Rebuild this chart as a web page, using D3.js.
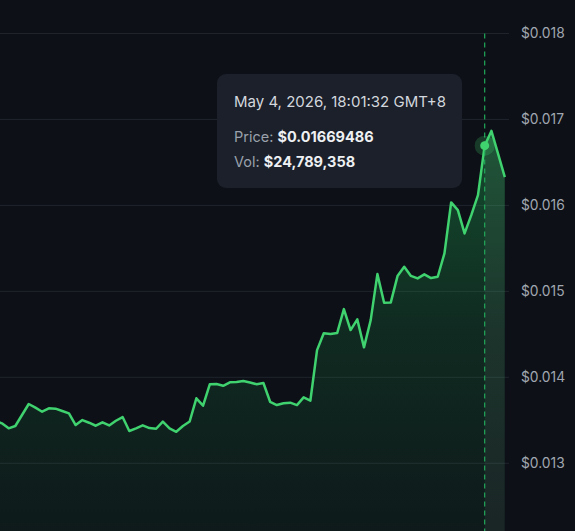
<!DOCTYPE html>
<html>
<head>
<meta charset="utf-8">
<script src="https://cdn.jsdelivr.net/npm/d3@7"></script>
<style>
  html, body { margin: 0; padding: 0; background: #0d1117; overflow: hidden; }
  svg { display: block; font-family: Inter, "Noto Sans", sans-serif; }
</style>
</head>
<body>
<script>
// price points (first one sits just off the left edge)
var prices = [
    0.013492, 0.013465, 0.013407, 0.013434, 0.013562, 0.013690, 0.013647, 0.013600,
    0.013640, 0.013636, 0.013608, 0.013581, 0.013445, 0.013503, 0.013472, 0.013437,
    0.013477, 0.013440, 0.013495, 0.013538, 0.013376, 0.013407, 0.013442, 0.013410,
    0.013402, 0.013484, 0.013405, 0.013367, 0.013434, 0.013486, 0.013756, 0.013670,
    0.013919, 0.013922, 0.013902, 0.013942, 0.013945, 0.013957, 0.013940, 0.013919,
    0.013934, 0.013716, 0.013678, 0.013698, 0.013705, 0.013677, 0.013767, 0.013728,
    0.014317, 0.014512, 0.014503, 0.014515, 0.014794, 0.014550, 0.014674, 0.014349,
    0.014666, 0.015201, 0.014867, 0.014872, 0.015178, 0.015286, 0.015180, 0.015151,
    0.015198, 0.015155, 0.015170, 0.015442, 0.016035, 0.015945, 0.015674, 0.015887,
    0.016120, 0.01669486, 0.016867, 0.016600, 0.016329
]
var yTicks = [0.013, 0.014, 0.015, 0.016, 0.017, 0.018]
var hoverIndex = 73
var hoverDate = "May 4, 2026, 18:01:32 GMT+8"
var hoverPrice = "$0.01669486"
var hoverVol = "$24,789,358"

var width = 575, height = 531

var svg = d3.select("body").append("svg")
    .attr("width", width)
    .attr("height", height)

var x = d3.scaleLinear()
    .domain([0, prices.length - 1])
    .range([-4.8, 504.8])

var y = d3.scaleLinear()
    .domain([0.013, 0.018])
    .range([463.3, 33.5])

var defs = svg.append("defs")
var grad = defs.append("linearGradient")
    .attr("id", "fillGrad")
    .attr("gradientUnits", "userSpaceOnUse")
    .attr("x1", 0).attr("y1", y(0.0169)).attr("x2", 0).attr("y2", height)
grad.append("stop").attr("offset", 0).attr("stop-color", "#22c55e").attr("stop-opacity", 0.34)
grad.append("stop").attr("offset", 0.5).attr("stop-color", "#22c55e").attr("stop-opacity", 0.14)
grad.append("stop").attr("offset", 1).attr("stop-color", "#22c55e").attr("stop-opacity", 0.05)

defs.append("clipPath").attr("id", "afterHover")
    .append("rect")
    .attr("x", x(hoverIndex))
    .attr("y", 0)
    .attr("width", x(prices.length - 1) - x(hoverIndex))
    .attr("height", height)

// grid lines
svg.append("g")
    .selectAll("line")
    .data(yTicks)
    .enter().append("line")
    .attr("x1", 0)
    .attr("x2", 509)
    .attr("y1", function(d) { return y(d) })
    .attr("y2", function(d) { return y(d) })
    .attr("stroke", "#1f242c")
    .attr("stroke-width", 1)

// y axis labels on the right
var axis = d3.axisRight(y)
    .tickValues(yTicks)
    .tickSize(0)
    .tickPadding(0)
    .tickFormat(function(d) { return "$" + d3.format(".3f")(d) })
var gAxis = svg.append("g")
    .attr("transform", "translate(521,0)")
    .call(axis)
gAxis.select(".domain").remove()
gAxis.selectAll("text")
    .attr("fill", "#a1a7b1")
    .style("font-size", "13.8px")
    .style("font-family", "Inter, 'Noto Sans', sans-serif")

var area = d3.area()
    .x(function(d, i) { return x(i) })
    .y0(height)
    .y1(function(d) { return y(d) })

var line = d3.line()
    .x(function(d, i) { return x(i) })
    .y(function(d) { return y(d) })

svg.append("path")
    .datum(prices)
    .attr("d", area)
    .attr("fill", "url(#fillGrad)")

// lighter section right of the hover point
svg.append("path")
    .datum(prices)
    .attr("d", area)
    .attr("clip-path", "url(#afterHover)")
    .attr("fill", "#ffffff")
    .attr("fill-opacity", 0.05)

svg.append("path")
    .datum(prices)
    .attr("d", line)
    .attr("fill", "none")
    .attr("stroke", "#3fd26f")
    .attr("stroke-width", 2.5)
    .attr("stroke-linejoin", "round")

// hover crosshair
svg.append("line")
    .attr("x1", x(hoverIndex))
    .attr("x2", x(hoverIndex))
    .attr("y1", y(0.018))
    .attr("y2", height)
    .attr("stroke", "#22a85a")
    .attr("stroke-width", 1.2)
    .attr("stroke-dasharray", "5,4")

svg.append("circle")
    .attr("cx", x(hoverIndex))
    .attr("cy", y(prices[hoverIndex]))
    .attr("r", 10)
    .attr("fill", "#3fd26f")
    .attr("fill-opacity", 0.22)
svg.append("circle")
    .attr("cx", x(hoverIndex))
    .attr("cy", y(prices[hoverIndex]))
    .attr("r", 4.5)
    .attr("fill", "#3fd26f")

// tooltip
var tip = svg.append("g").attr("transform", "translate(217,74)")
tip.append("rect")
    .attr("width", 245)
    .attr("height", 114)
    .attr("rx", 9)
    .attr("fill", "#1b202a")
tip.append("text")
    .attr("x", 17)
    .attr("y", 33)
    .attr("fill", "#d3d7de")
    .style("font-size", "15px")
    .text(hoverDate)

var rows = [["Price: ", hoverPrice], ["Vol: ", hoverVol]]
tip.selectAll(".row")
    .data(rows)
    .enter().append("text")
    .attr("class", "row")
    .attr("x", 17)
    .attr("y", function(d, i) { return 68 + i * 25 })
    .style("font-size", "14.5px")
    .each(function(d) {
        var t = d3.select(this)
        t.append("tspan").attr("fill", "#9aa1ac").text(d[0])
        t.append("tspan").attr("fill", "#eef0f3").attr("font-weight", 700).text(d[1])
    })
</script>
</body>
</html>
